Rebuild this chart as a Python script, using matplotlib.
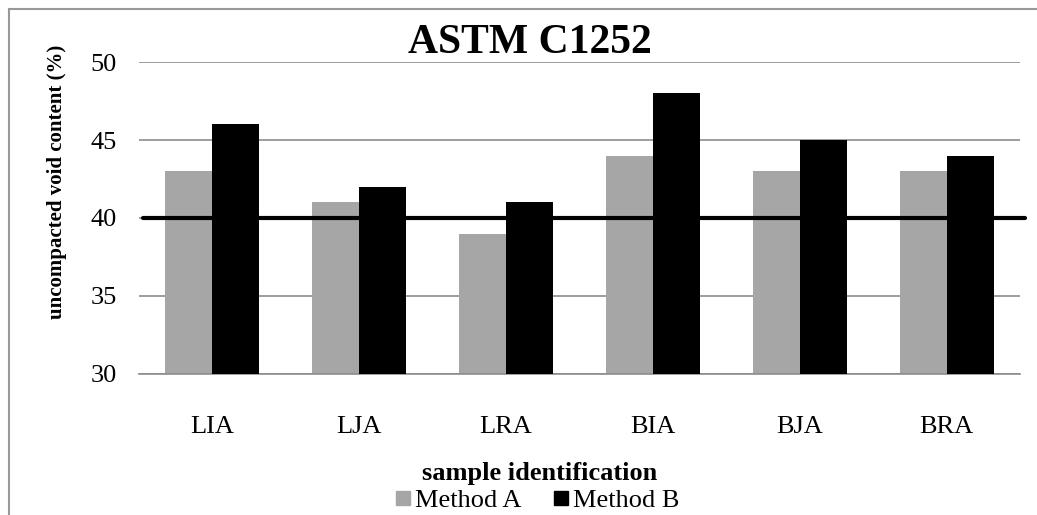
import numpy as np
import matplotlib
matplotlib.use('Agg')
import matplotlib.pyplot as plt
from matplotlib.lines import Line2D

plt.rcParams['font.family'] = ['Liberation Serif', 'DejaVu Serif']

samples = ['LIA', 'LJA', 'LRA', 'BIA', 'BJA', 'BRA']
method_a = [43, 41, 39, 44, 43, 43]
method_b = [46, 42, 41, 48, 45, 44]
limit = 40

fig = plt.figure(figsize=(10.37, 5.15), dpi=100)
ax = fig.add_axes([0.134, 0.2738, 0.8496, 0.6058])

x = np.arange(len(samples))
w = 0.32
ax.bar(x - w/2, method_a, width=w, color='#a6a6a6', label='Method A', zorder=2)
ax.bar(x + w/2, method_b, width=w, color='black', label='Method B', zorder=4)

# 40% limit line, runs a bit past the plot on the right
ax.plot([-0.473, 5.534], [limit, limit], color='black', lw=3,
        solid_capstyle='round', clip_on=False, zorder=3)

ax.set_ylim(30, 50)
ax.set_xlim(-0.5, 5.5)
ax.set_yticks([30, 35, 40, 45, 50])
ax.set_xticks(x)
ax.set_xticklabels(samples)
ax.tick_params(axis='both', length=0, labelsize=19)
ax.tick_params(axis='y', pad=16)
ax.tick_params(axis='x', pad=30)
ax.yaxis.grid(True, color='#8c8c8c', lw=1.2, zorder=0)
ax.set_axisbelow(True)
for s in ['top', 'right', 'left']:
    ax.spines[s].set_visible(False)
ax.spines['bottom'].set_color('#8c8c8c')
ax.spines['bottom'].set_linewidth(1.2)

fig.text(0.511, 0.897, 'ASTM C1252', ha='center', va='baseline',
         fontsize=30, fontweight='bold')
fig.text(0.055, 0.647, 'uncompacted void content (%)', rotation=90,
         ha='center', va='center', fontsize=15, fontweight='bold')
fig.text(0.52, 0.068, 'sample identification', ha='center', va='baseline',
         fontsize=19, fontweight='bold')

handles = [Line2D([], [], marker='s', ls='', color='#a6a6a6', markersize=10),
           Line2D([], [], marker='s', ls='', color='black', markersize=10)]
fig.legend(handles, ['Method A', 'Method B'], loc='center',
           bbox_to_anchor=(0.518, 0.028), ncol=2, frameon=False,
           fontsize=19, handlelength=0.6, handletextpad=0.15,
           columnspacing=1.2, borderpad=0)

# outer chart border (only left and top fall inside the picture)
fig.add_artist(Line2D([0.0087, 0.0087], [0, 0.9825], color='#999999', lw=1.5,
                      transform=fig.transFigure))
fig.add_artist(Line2D([0.0087, 1], [0.9825, 0.9825], color='#999999', lw=1.5,
                      transform=fig.transFigure))

fig.savefig('out.png', dpi=100)
